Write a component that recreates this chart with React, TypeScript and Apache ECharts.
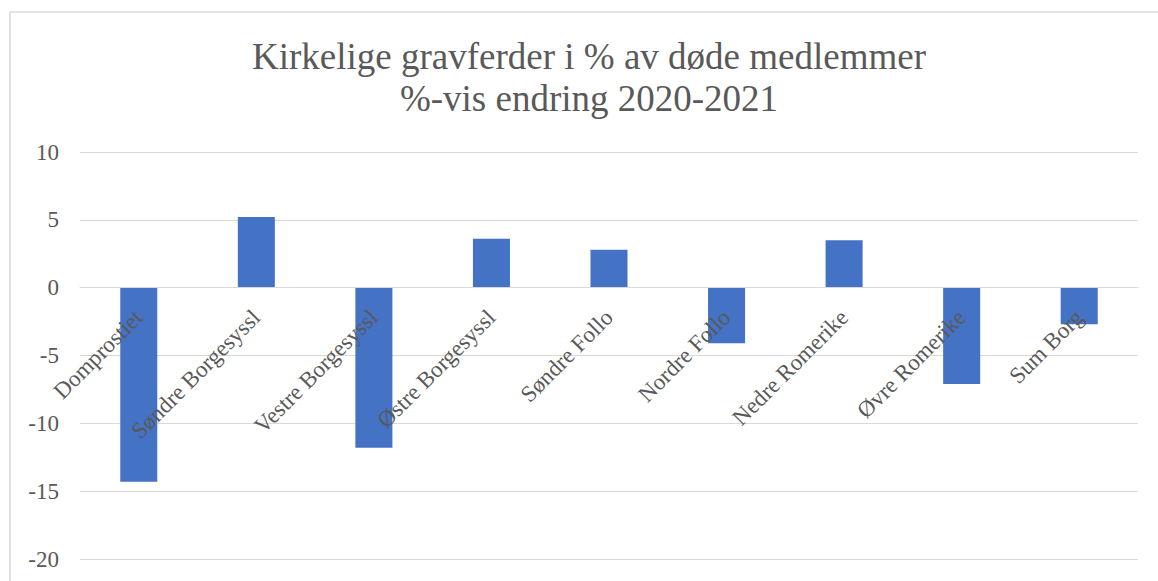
import React, { useEffect, useRef } from "react";
import * as echarts from "echarts";

const titleLines = ["Kirkelige gravferder i % av døde medlemmer", "%-vis endring 2020-2021"];
const categories = [
  "Domprostiet",
  "Søndre Borgesyssl",
  "Vestre Borgesyssl",
  "Østre Borgesyssl",
  "Søndre Follo",
  "Nordre Follo",
  "Nedre Romerike",
  "Øvre Romerike",
  "Sum Borg",
];
const values = [-14.3, 5.2, -11.8, 3.6, 2.8, -4.1, 3.5, -7.1, -2.7];
const yMin = -20;
const yMax = 10;
const yStep = 5;

const FONT = "'Liberation Serif', 'Times New Roman', serif";
const TEXT = "#595959";
const GRIDC = "#d9d9d9";

const W = 1158;
const H = 581;
const GRID_TOP = 152;
const GRID_BOTTOM = 22;

export default function App() {
  const ref = useRef<HTMLDivElement>(null);
  useEffect(() => {
    if (!ref.current) return;
    const chart = echarts.init(ref.current, null, { renderer: "svg" });
    const plotH = H - GRID_TOP - GRID_BOTTOM;
    const zeroOffset = -((0 - yMin) / (yMax - yMin)) * plotH;
    chart.setOption({
      animation: false,
      backgroundColor: "#ffffff",
      textStyle: { fontFamily: FONT },
      title: {
        text: titleLines.join("\n"),
        left: 589,
        top: 35,
        padding: 0,
        textAlign: "center",
        textStyle: {
          fontFamily: FONT,
          fontSize: 37,
          fontWeight: "normal",
          color: TEXT,
          lineHeight: 42,
        },
      },
      graphic: [
        {
          type: "rect",
          shape: { x: 10, y: 12, width: 1300, height: 800 },
          style: { fill: "none", stroke: GRIDC, lineWidth: 1.5 },
          silent: true,
          z: -1,
        },
      ],
      grid: {
        left: 80,
        right: 20,
        top: GRID_TOP,
        bottom: GRID_BOTTOM,
        containLabel: false,
        outerBoundsMode: "none",
      },
      xAxis: {
        type: "category",
        data: categories,
        position: "bottom",
        offset: zeroOffset,
        z: 10,
        axisLine: { show: true, onZero: false, lineStyle: { color: GRIDC, width: 1 } },
        axisTick: { show: false },
        axisLabel: {
          rotate: 45,
          interval: 0,
          margin: 26,
          fontFamily: FONT,
          fontSize: 23,
          color: TEXT,
        },
        splitLine: { show: false },
      },
      yAxis: {
        type: "value",
        min: yMin,
        max: yMax,
        interval: yStep,
        axisLine: { show: false },
        axisTick: { show: false },
        axisLabel: {
          margin: 21,
          fontFamily: FONT,
          fontSize: 23,
          color: TEXT,
        },
        splitLine: { show: true, lineStyle: { color: GRIDC, width: 1 } },
      },
      series: [
        {
          type: "bar",
          data: values,
          barWidth: "31.5%",
          z: 2,
          itemStyle: { color: "#4472C4" },
        },
      ],
    });
    return () => chart.dispose();
  }, []);
  return (
    <div
      ref={ref}
      style={{ position: "fixed", left: 0, top: 0, width: W, height: H }}
    />
  );
}
